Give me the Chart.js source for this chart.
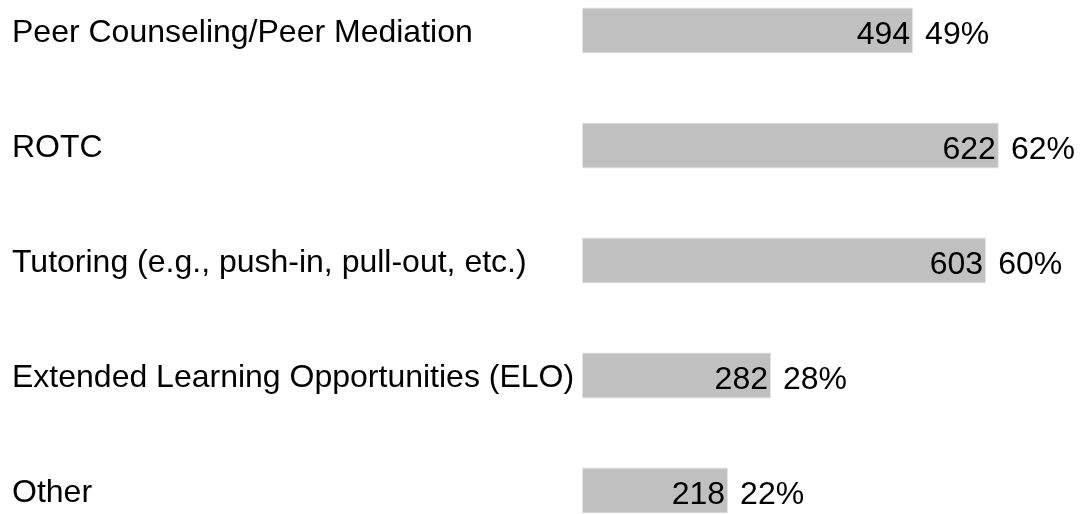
<!DOCTYPE html>
<html>
<head>
<meta charset="utf-8">
<script src="https://cdn.jsdelivr.net/npm/chart.js@4.4.1/dist/chart.umd.min.js"></script>
<style>
  html, body { margin: 0; padding: 0; background: #fff; overflow: hidden; }
  #programChart { position: absolute; left: 0; top: -27px; }
</style>
</head>
<body>
<canvas id="programChart" width="1084" height="575"></canvas>
<script>
const categories = [
  "Peer Counseling/Peer Mediation",
  "ROTC",
  "Tutoring (e.g., push-in, pull-out, etc.)",
  "Extended Learning Opportunities (ELO)",
  "Other"
];
const counts = [494, 622, 603, 282, 218];
const percents = ["49%", "62%", "60%", "28%", "22%"];

const FONT = "'Liberation Sans', Arial, sans-serif";
const FONT_SIZE = 32;

// draws the count inside the bar end and the percent just after it
const barLabels = {
  id: "barLabels",
  afterDatasetsDraw(chart) {
    const ctx = chart.ctx;
    const meta = chart.getDatasetMeta(0);
    ctx.save();
    ctx.font = FONT_SIZE + "px " + FONT;
    ctx.fillStyle = "#000";
    ctx.textBaseline = "middle";
    meta.data.forEach((bar, i) => {
      const y = bar.y + 5;
      ctx.textAlign = "right";
      ctx.fillText(String(counts[i]), bar.x - 3, y);
      ctx.textAlign = "left";
      ctx.fillText(percents[i], bar.x + 12, y);
    });
    ctx.restore();
  }
};

let ctx = document.getElementById("programChart").getContext("2d");
new Chart(ctx, {
  type: "bar",
  data: {
    labels: categories,
    datasets: [{
      data: counts,
      backgroundColor: "#c0c0c0",
      borderColor: "#e4e4e4",
      borderWidth: 1,
      borderSkipped: false,
      categoryPercentage: 1.0,
      barPercentage: 0.4
    }]
  },
  options: {
    indexAxis: "y",
    responsive: false,
    animation: false,
    layout: { padding: { left: 12, right: 0, top: 0, bottom: 0 } },
    plugins: {
      legend: { display: false },
      tooltip: { enabled: false }
    },
    scales: {
      x: {
        display: false,
        min: 0,
        max: 749
      },
      y: {
        grid: { display: false, drawTicks: false },
        border: { display: false },
        afterFit: (scale) => {
          scale.width = 570;
          scale.paddingTop = 0;
          scale.paddingBottom = 0;
        },
        ticks: {
          crossAlign: "far",
          color: "#000",
          padding: 0,
          labelOffset: 3,
          font: { family: FONT, size: FONT_SIZE }
        }
      }
    }
  },
  plugins: [barLabels]
});
</script>
</body>
</html>
